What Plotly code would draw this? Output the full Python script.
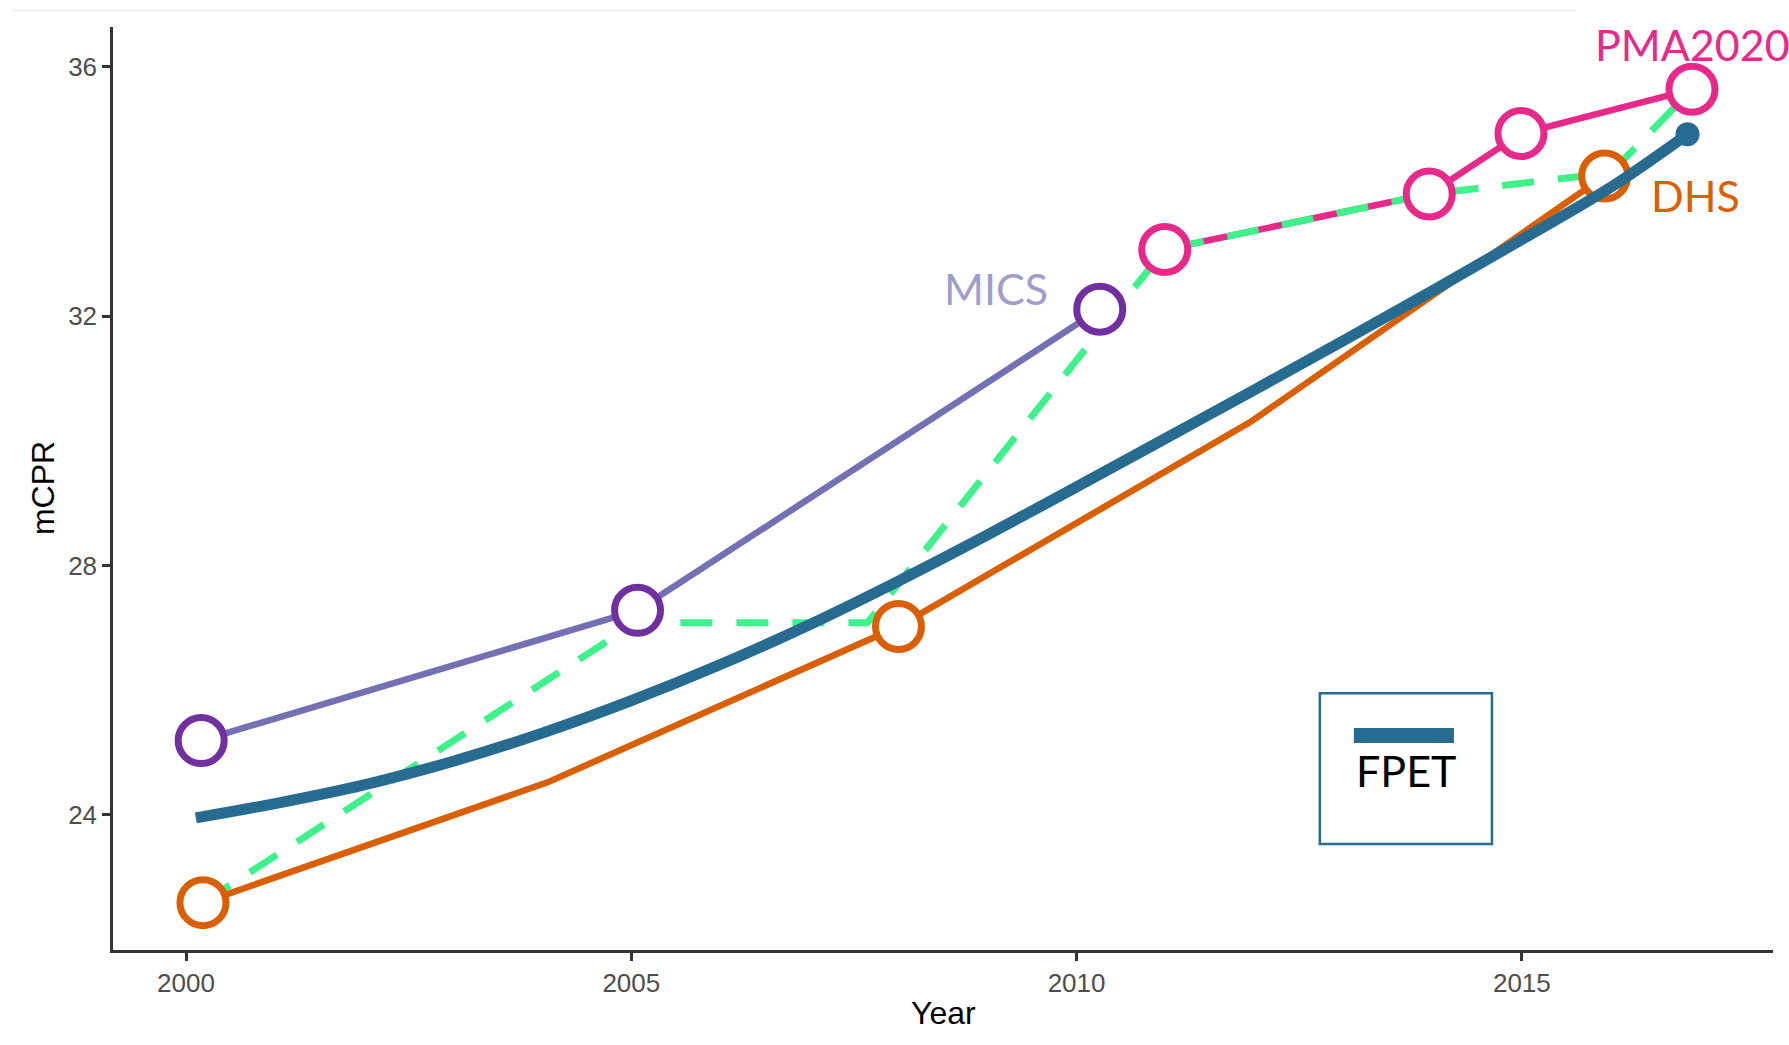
import plotly.graph_objects as go

# ---------------- data ----------------
mics_years = [2000.17, 2005.07, 2010.26]
mics_values = [25.19, 27.28, 32.11]

dhs_line_years = [2000.19, 2004.06, 2008.0, 2011.95, 2015.93]
dhs_line_values = [22.59, 24.52, 27.02, 30.30, 34.25]
dhs_years = [2000.19, 2008.0, 2015.93]
dhs_values = [22.59, 27.02, 34.25]

pma_years = [2010.99, 2013.96, 2014.99, 2016.91]
pma_values = [33.07, 33.96, 34.93, 35.64]

combined_years = [2000.19, 2005.05, 2007.65, 2010.99, 2013.96, 2016.0, 2016.91]
combined_values = [22.59, 27.08, 27.08, 33.07, 33.96, 34.30, 35.64]

fpet_years = [2000.11, 2001, 2002, 2003, 2004, 2005, 2006, 2007, 2008, 2009,
              2010, 2011, 2012, 2013, 2014, 2015, 2016, 2016.86]
fpet_values = [23.95, 24.18, 24.48, 24.86, 25.31, 25.83, 26.41, 27.05, 27.75, 28.49,
               29.26, 30.04, 30.82, 31.61, 32.41, 33.23, 34.07, 34.92]

x_ticks = [2000, 2005, 2010, 2015]
y_ticks = [24, 28, 32, 36]

labels = ["MICS", "DHS", "PMA2020"]
label_pos_x = [2009.1, 2016.95, 2016.92]
label_pos_y = [32.45, 33.93, 36.36]

# ---------------- styling ----------------
C_MICS_LINE = "#7570b3"
C_MICS_PT = "#7030a0"
C_MICS_TXT = "#a09ccc"
C_DHS = "#d95f02"
C_PMA = "#e7298a"
C_GREEN = "#3df28b"
C_FPET = "#286b91"
LABEL_FONT = "Lato"
TICK_FONT = "Liberation Sans, Arial, sans-serif"

fig = go.Figure()

def circles(xs, ys, color):
    return go.Scatter(x=xs, y=ys, mode="markers", showlegend=False, hoverinfo="skip",
                      marker=dict(symbol="circle", size=46, color="white",
                                  line=dict(color=color, width=7)))

fig.add_trace(go.Scatter(x=mics_years, y=mics_values, mode="lines", showlegend=False,
                         line=dict(color=C_MICS_LINE, width=6.5)))
fig.add_trace(go.Scatter(x=dhs_line_years, y=dhs_line_values, mode="lines", showlegend=False,
                         line=dict(color=C_DHS, width=6.5)))
fig.add_trace(go.Scatter(x=pma_years, y=pma_values, mode="lines", showlegend=False,
                         line=dict(color=C_PMA, width=6.5)))
fig.add_trace(go.Scatter(x=combined_years, y=combined_values, mode="lines", showlegend=False,
                         line=dict(color=C_GREEN, width=7, dash="32px,24px")))
fig.add_trace(circles(dhs_years, dhs_values, C_DHS))
fig.add_trace(go.Scatter(x=fpet_years, y=fpet_values, mode="lines", name="FPET", showlegend=False,
                         line=dict(color=C_FPET, width=11, shape="spline", smoothing=1.0)))
fig.add_trace(go.Scatter(x=fpet_years[-1:], y=fpet_values[-1:], mode="markers", showlegend=False,
                         marker=dict(color=C_FPET, size=24)))
fig.add_trace(circles(mics_years, mics_values, C_MICS_PT))
fig.add_trace(circles(pma_years, pma_values, C_PMA))

label_colors = [C_MICS_TXT, C_DHS, C_PMA]
for t, lx, ly, c in zip(labels, label_pos_x, label_pos_y, label_colors):
    fig.add_annotation(x=lx, y=ly, xref="x", yref="y", text=t, showarrow=False,
                       font=dict(family=LABEL_FONT, size=43, color=c),
                       xanchor="center", yanchor="middle")

# custom FPET legend box
fig.add_shape(type="rect", xref="paper", yref="paper", x0=0.727, x1=0.8307, y0=0.1148, y1=0.2783,
              line=dict(color=C_FPET, width=2.5), fillcolor="white", layer="above")
fig.add_shape(type="line", xref="paper", yref="paper", x0=0.7475, x1=0.8078, y0=0.2323, y1=0.2323,
              line=dict(color=C_FPET, width=15), layer="above")
fig.add_annotation(x=0.7792, y=0.1944, xref="paper", yref="paper", text="FPET", showarrow=False,
                   font=dict(family=LABEL_FONT, size=43, color="black"),
                   xanchor="center", yanchor="middle")

# axis titles
fig.add_annotation(x=0.5, y=-0.0682, xref="paper", yref="paper", text="Year", showarrow=False,
                   font=dict(family=TICK_FONT, size=32, color="black"),
                   xanchor="center", yanchor="middle")
fig.add_annotation(x=-0.0424, y=0.5, xref="paper", yref="paper", text="mCPR", showarrow=False,
                   textangle=-90, font=dict(family=TICK_FONT, size=32, color="black"),
                   xanchor="center", yanchor="middle")

# faint outer frame line of the original image
fig.add_shape(type="line", xref="paper", yref="paper", x0=-0.06, x1=0.881, y0=1.018, y1=1.018,
              line=dict(color="#f0f0f0", width=2), layer="below")

axis_common = dict(showline=True, linecolor="#333333", linewidth=2.5, ticks="outside",
                   ticklen=8, tickwidth=2.5, tickcolor="#333333", showgrid=False, zeroline=False,
                   tickfont=dict(family=TICK_FONT, size=26, color="#4d4d4d"), mirror=False)

fig.update_xaxes(range=[1999.18, 2017.82], tickvals=x_ticks,
                 ticktext=[str(v) for v in x_ticks], **axis_common)
fig.update_yaxes(range=[21.83, 36.64], tickvals=y_ticks,
                 ticktext=[str(v) for v in y_ticks], **axis_common)

fig.update_layout(width=1789, height=1045, margin=dict(l=113, r=16, t=27, b=95),
                  plot_bgcolor="white", paper_bgcolor="white", showlegend=False)

fig.write_html("out.html", config={"displayModeBar": False},
               post_script="document.body.style.margin='0';")
